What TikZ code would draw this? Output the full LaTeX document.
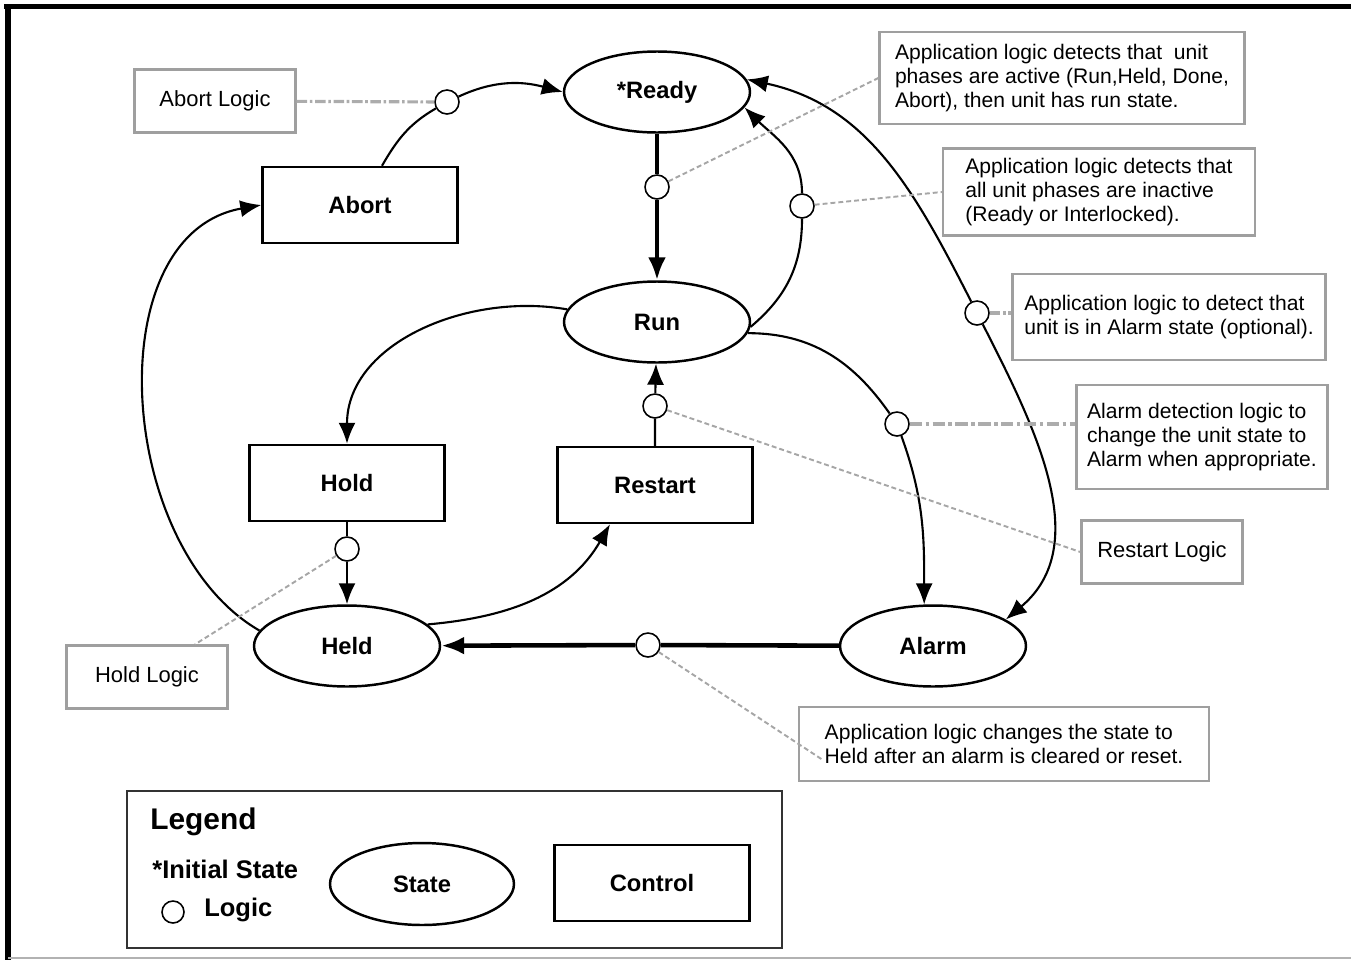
\documentclass[tikz,border=0pt]{standalone}
\usepackage{fontspec}
\setmainfont{Liberation Sans}
\usetikzlibrary{shapes.geometric,arrows.meta}

\begin{document}
\begin{tikzpicture}[x=0.02cm,y=-0.02cm,
  state/.style={ellipse,draw,line width=1.4pt,minimum width=3.72cm,minimum height=1.62cm,inner sep=0pt,font=\bfseries\fontsize{13.5}{16}\selectfont},
  ctrl/.style={rectangle,draw,line width=1.4pt,minimum width=3.9cm,minimum height=1.52cm,font=\bfseries\fontsize{13.5}{16}\selectfont},
  logic/.style={circle,draw,fill=white,line width=0.9pt,minimum size=0.48cm,inner sep=0pt},
  note/.style={draw=gray!75,line width=1.3pt,align=left,inner sep=0pt,font=\fontsize{12}{13.66}\selectfont},
  lnote/.style={draw=gray!75,line width=1.3pt,inner sep=0pt,minimum width=3.22cm,minimum height=1.26cm,font=\fontsize{12.5}{15}\selectfont},
  flow/.style={line width=1.2pt,-{Latex[length=0.42cm,width=0.34cm]}},
  bigflow/.style={line width=2.6pt,-{Latex[length=0.46cm,width=0.36cm]}},
  notelink/.style={gray!70,line width=1.1pt,dash pattern=on 2.8pt off 1.7pt},
  logicdash/.style={gray!65,line width=1.8pt,dash pattern=on 6pt off 1.5pt on 1.5pt off 1.5pt}
]
\useasboundingbox (0,0) rectangle (1351,960);
% frame
\draw[line width=3.4pt] (4,6.5) -- (1351,6.5);
\draw[line width=3.4pt] (8,4) -- (8,960);
\draw[gray!60,line width=0.8pt] (8,958) -- (1351,958);

% states and controls
\node[state] (ready) at (657,92) {*Ready};
\node[state] (run) at (657,322) {Run};
\node[state] (held) at (347,646) {Held};
\node[state] (alarm) at (933,646) {Alarm};
\node[ctrl] (abort) at (360,205) {Abort};
\node[ctrl] (hold) at (347,483) {Hold};
\node[ctrl] (restart) at (655,485) {Restart};

% logic points
\node[logic] (lgabort) at (447,102) {};
\node[logic] (lgready) at (657,187) {};
\node[logic] (lgrun) at (802,206) {};
\node[logic] (lgalarmup) at (977,313) {};
\node[logic] (lgalarm) at (897,424) {};
\node[logic] (lgrestart) at (655,406) {};
\node[logic] (lghold) at (347,549) {};
\node[logic] (lgheld) at (648,645) {};

% notes
\node[lnote] (abortlogic) at (215,101) {Abort Logic};
\node[lnote] (restartlogic) at (1162,552) {Restart Logic};
\node[lnote] (holdlogic) at (147,677) {Hold Logic};
\node[note,minimum width=7.3cm,minimum height=1.84cm] (notea) at (1062,78) {Application logic detects that~ unit\\phases are active (Run,Held, Done,\\Abort), then unit has run state.};
\node[note,minimum width=6.24cm,minimum height=1.74cm] (noteb) at (1099,192) {Application logic detects that\\all unit phases are inactive\\(Ready or Interlocked).};
\node[note,minimum width=6.26cm,minimum height=1.72cm] (notec) at (1169,317) {Application logic to detect that\\unit is in Alarm state (optional).};
\node[note,minimum width=5.02cm,minimum height=2.08cm] (noted) at (1202,437) {Alarm detection logic to\\change the unit state to\\Alarm when appropriate.};
\node[note,minimum width=8.2cm,minimum height=1.48cm] (notee) at (1004,744) {Application logic changes the state to\\Held after an alarm is cleared or reset.};

% transitions
\draw[flow] ([xshift=0.44cm]abort.north) to[out=60,in=210] (lgabort) to[out=25,in=165] (ready.west);
\draw[bigflow] (ready) -- (lgready) -- (run);
\draw[flow] (run.-3) to[out=40,in=270] (lgrun) to[out=90,in=-45] (ready.-10);
\draw[flow] (lgalarmup) to[out=117,in=-12] (ready.8);
\draw[flow] (lgalarmup) to[out=-63,in=40] (alarm.20);
\draw[flow] (run.172) to[out=170,in=90] (hold.north);
\draw[flow] (hold) -- (lghold) -- (held);
\draw[flow] (held.15) to[out=5,in=240] ([xshift=-0.9cm]restart.south);
\draw[flow] (restart) -- (lgrestart) -- (run);
\draw[flow] (run.-7) to[out=0,in=125] (lgalarm) to[out=-70,in=90] (alarm.102);
\draw[bigflow] (alarm) -- (lgheld) -- (held);
\draw[flow] (held.170) to[out=150,in=190] (abort.west);

% logic to notes
\draw[logicdash] (abortlogic) -- (lgabort);
\draw[notelink] (lgready) -- (notea.west);
\draw[notelink] (lgrun) -- (noteb.west);
\draw[logicdash] (lgalarmup) -- (lgalarmup -| notec.west);
\draw[logicdash,line width=2.6pt,dash pattern=on 7pt off 2pt on 2pt off 2pt] (lgalarm) -- (lgalarm -| noted.west);
\draw[notelink] (lgrestart) -- (restartlogic.west);
\draw[notelink] (lghold) -- ([xshift=0.96cm]holdlogic.north);
\draw[notelink] (lgheld) -- ([shift={(0.5cm,-0.32cm)}]notee.west);

% legend
\draw[line width=1.1pt,black!80] (127,791) rectangle (782,948);
\node[anchor=west,inner sep=0pt,font=\bfseries\fontsize{17}{20}\selectfont] (legtitle) at (150,822) {Legend};
\node[anchor=west,inner sep=0pt,font=\bfseries\fontsize{14.5}{17}\selectfont] (leginit) at (152,869) {*Initial State};
\node[logic,minimum size=0.44cm] (leglogic) at (173,912) {};
\node[anchor=west,inner sep=0pt,font=\bfseries\fontsize{14.5}{17}\selectfont] (legtext) at (204,910) {Logic};
\node[state,minimum width=3.68cm,minimum height=1.64cm] (legstate) at (422,884) {State};
\node[ctrl] (legctrl) at (652,883) {Control};
\end{tikzpicture}
\end{document}
